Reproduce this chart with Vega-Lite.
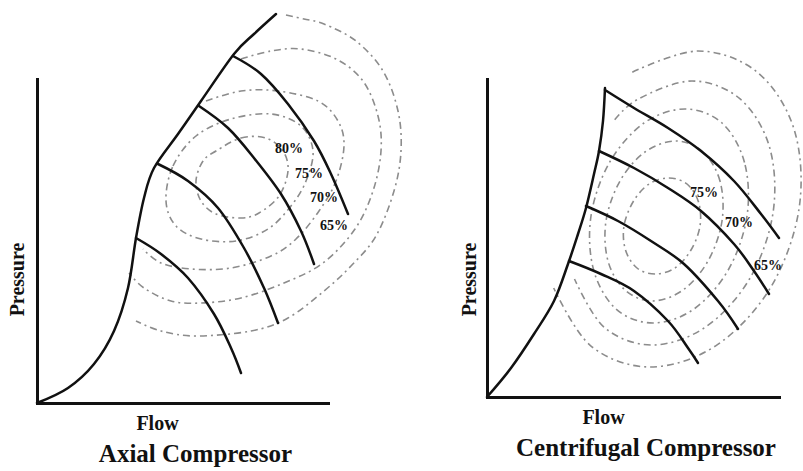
{
  "$schema": "https://vega.github.io/schema/vega-lite/v6.json",
  "background": "white",
  "padding": {"left": 7, "top": 9, "right": 2, "bottom": 2},
  "bounds": "flush",
  "spacing": 159,
  "config": {
    "view": {"stroke": null},
    "font": "Liberation Serif",
    "axis": {
      "domain": true, "domainColor": "#111", "domainWidth": 3, "domainCap": "square",
      "ticks": false, "labels": false, "grid": false,
      "titleFont": "Liberation Serif", "titleFontSize": 20, "titleFontWeight": "bold", "titleColor": "#111"
    },
    "title": {"font": "Liberation Serif", "fontSize": 25, "fontWeight": "bold", "color": "#111"}
  },
  "datasets": {
    "axial_lines": [
      {"id": "surge", "i": 0, "flow": 0, "pressure": 0},
      {"id": "surge", "i": 1, "flow": 31, "pressure": 15},
      {"id": "surge", "i": 2, "flow": 57, "pressure": 39},
      {"id": "surge", "i": 3, "flow": 77, "pressure": 72},
      {"id": "surge", "i": 4, "flow": 91, "pressure": 115},
      {"id": "surge", "i": 5, "flow": 99, "pressure": 165},
      {"id": "surge", "i": 6, "flow": 107, "pressure": 205},
      {"id": "surge", "i": 7, "flow": 117, "pressure": 235},
      {"id": "surge", "i": 8, "flow": 141, "pressure": 269},
      {"id": "surge", "i": 9, "flow": 164, "pressure": 302},
      {"id": "surge", "i": 10, "flow": 197, "pressure": 349},
      {"id": "surge", "i": 11, "flow": 217, "pressure": 369},
      {"id": "surge", "i": 12, "flow": 239, "pressure": 389},
      {"id": "s1", "i": 0, "flow": 99, "pressure": 165},
      {"id": "s1", "i": 1, "flow": 124, "pressure": 149},
      {"id": "s1", "i": 2, "flow": 151, "pressure": 125},
      {"id": "s1", "i": 3, "flow": 177, "pressure": 89},
      {"id": "s1", "i": 4, "flow": 194, "pressure": 55},
      {"id": "s1", "i": 5, "flow": 204, "pressure": 30},
      {"id": "s2", "i": 0, "flow": 121, "pressure": 239},
      {"id": "s2", "i": 1, "flow": 151, "pressure": 222},
      {"id": "s2", "i": 2, "flow": 181, "pressure": 195},
      {"id": "s2", "i": 3, "flow": 207, "pressure": 155},
      {"id": "s2", "i": 4, "flow": 227, "pressure": 115},
      {"id": "s2", "i": 5, "flow": 241, "pressure": 80},
      {"id": "s3", "i": 0, "flow": 162, "pressure": 297},
      {"id": "s3", "i": 1, "flow": 191, "pressure": 275},
      {"id": "s3", "i": 2, "flow": 217, "pressure": 245},
      {"id": "s3", "i": 3, "flow": 244, "pressure": 209},
      {"id": "s3", "i": 4, "flow": 264, "pressure": 172},
      {"id": "s3", "i": 5, "flow": 277, "pressure": 139},
      {"id": "s4", "i": 0, "flow": 196, "pressure": 347},
      {"id": "s4", "i": 1, "flow": 224, "pressure": 329},
      {"id": "s4", "i": 2, "flow": 251, "pressure": 299},
      {"id": "s4", "i": 3, "flow": 277, "pressure": 262},
      {"id": "s4", "i": 4, "flow": 294, "pressure": 229},
      {"id": "s4", "i": 5, "flow": 311, "pressure": 189}
    ],
    "axial_rings_closed": [
      {"id": "r1", "i": 0, "flow": 179, "pressure": 252},
      {"id": "r1", "i": 1, "flow": 204, "pressure": 265},
      {"id": "r1", "i": 2, "flow": 229, "pressure": 265},
      {"id": "r1", "i": 3, "flow": 246, "pressure": 252},
      {"id": "r1", "i": 4, "flow": 251, "pressure": 232},
      {"id": "r1", "i": 5, "flow": 242, "pressure": 207},
      {"id": "r1", "i": 6, "flow": 222, "pressure": 190},
      {"id": "r1", "i": 7, "flow": 204, "pressure": 185},
      {"id": "r1", "i": 8, "flow": 179, "pressure": 189},
      {"id": "r1", "i": 9, "flow": 164, "pressure": 202},
      {"id": "r1", "i": 10, "flow": 159, "pressure": 222},
      {"id": "r1", "i": 11, "flow": 166, "pressure": 242},
      {"id": "r2", "i": 0, "flow": 129, "pressure": 202},
      {"id": "r2", "i": 1, "flow": 136, "pressure": 237},
      {"id": "r2", "i": 2, "flow": 159, "pressure": 267},
      {"id": "r2", "i": 3, "flow": 194, "pressure": 284},
      {"id": "r2", "i": 4, "flow": 234, "pressure": 289},
      {"id": "r2", "i": 5, "flow": 264, "pressure": 277},
      {"id": "r2", "i": 6, "flow": 276, "pressure": 252},
      {"id": "r2", "i": 7, "flow": 269, "pressure": 222},
      {"id": "r2", "i": 8, "flow": 254, "pressure": 197},
      {"id": "r2", "i": 9, "flow": 231, "pressure": 174},
      {"id": "r2", "i": 10, "flow": 199, "pressure": 162},
      {"id": "r2", "i": 11, "flow": 164, "pressure": 164},
      {"id": "r2", "i": 12, "flow": 139, "pressure": 177}
    ],
    "axial_rings_open": [
      {"id": "r3", "i": 0, "flow": 169, "pressure": 302},
      {"id": "r3", "i": 1, "flow": 204, "pressure": 312},
      {"id": "r3", "i": 2, "flow": 241, "pressure": 312},
      {"id": "r3", "i": 3, "flow": 281, "pressure": 302},
      {"id": "r3", "i": 4, "flow": 301, "pressure": 282},
      {"id": "r3", "i": 5, "flow": 307, "pressure": 257},
      {"id": "r3", "i": 6, "flow": 299, "pressure": 222},
      {"id": "r3", "i": 7, "flow": 282, "pressure": 192},
      {"id": "r3", "i": 8, "flow": 259, "pressure": 164},
      {"id": "r3", "i": 9, "flow": 234, "pressure": 147},
      {"id": "r3", "i": 10, "flow": 194, "pressure": 135},
      {"id": "r3", "i": 11, "flow": 154, "pressure": 134},
      {"id": "r3", "i": 12, "flow": 124, "pressure": 140},
      {"id": "r3", "i": 13, "flow": 106, "pressure": 154},
      {"id": "r4", "i": 0, "flow": 204, "pressure": 344},
      {"id": "r4", "i": 1, "flow": 234, "pressure": 352},
      {"id": "r4", "i": 2, "flow": 264, "pressure": 354},
      {"id": "r4", "i": 3, "flow": 299, "pressure": 344},
      {"id": "r4", "i": 4, "flow": 326, "pressure": 322},
      {"id": "r4", "i": 5, "flow": 341, "pressure": 287},
      {"id": "r4", "i": 6, "flow": 344, "pressure": 252},
      {"id": "r4", "i": 7, "flow": 336, "pressure": 212},
      {"id": "r4", "i": 8, "flow": 318, "pressure": 174},
      {"id": "r4", "i": 9, "flow": 286, "pressure": 140},
      {"id": "r4", "i": 10, "flow": 247, "pressure": 120},
      {"id": "r4", "i": 11, "flow": 204, "pressure": 105},
      {"id": "r4", "i": 12, "flow": 164, "pressure": 100},
      {"id": "r4", "i": 13, "flow": 134, "pressure": 102},
      {"id": "r4", "i": 14, "flow": 107, "pressure": 115},
      {"id": "r4", "i": 15, "flow": 92, "pressure": 130},
      {"id": "r5", "i": 0, "flow": 249, "pressure": 388},
      {"id": "r5", "i": 1, "flow": 267, "pressure": 384},
      {"id": "r5", "i": 2, "flow": 287, "pressure": 379},
      {"id": "r5", "i": 3, "flow": 319, "pressure": 362},
      {"id": "r5", "i": 4, "flow": 346, "pressure": 332},
      {"id": "r5", "i": 5, "flow": 361, "pressure": 292},
      {"id": "r5", "i": 6, "flow": 364, "pressure": 252},
      {"id": "r5", "i": 7, "flow": 357, "pressure": 212},
      {"id": "r5", "i": 8, "flow": 339, "pressure": 167},
      {"id": "r5", "i": 9, "flow": 314, "pressure": 137},
      {"id": "r5", "i": 10, "flow": 287, "pressure": 112},
      {"id": "r5", "i": 11, "flow": 251, "pressure": 85},
      {"id": "r5", "i": 12, "flow": 214, "pressure": 72},
      {"id": "r5", "i": 13, "flow": 159, "pressure": 67},
      {"id": "r5", "i": 14, "flow": 124, "pressure": 72},
      {"id": "r5", "i": 15, "flow": 99, "pressure": 82}
    ],
    "axial_labels": [
      {"label": "80%", "flow": 252, "pressure": 254},
      {"label": "75%", "flow": 272, "pressure": 229},
      {"label": "70%", "flow": 287, "pressure": 205},
      {"label": "65%", "flow": 297, "pressure": 177}
    ],
    "centri_lines": [
      {"id": "surge", "i": 0, "flow": 0, "pressure": 0},
      {"id": "surge", "i": 1, "flow": 24, "pressure": 29},
      {"id": "surge", "i": 2, "flow": 47, "pressure": 63},
      {"id": "surge", "i": 3, "flow": 67, "pressure": 96},
      {"id": "surge", "i": 4, "flow": 81, "pressure": 133},
      {"id": "surge", "i": 5, "flow": 91, "pressure": 163},
      {"id": "surge", "i": 6, "flow": 99, "pressure": 189},
      {"id": "surge", "i": 7, "flow": 107, "pressure": 223},
      {"id": "surge", "i": 8, "flow": 112, "pressure": 246},
      {"id": "surge", "i": 9, "flow": 116, "pressure": 276},
      {"id": "surge", "i": 10, "flow": 118, "pressure": 309},
      {"id": "s1", "i": 0, "flow": 118, "pressure": 307},
      {"id": "s1", "i": 1, "flow": 147, "pressure": 289},
      {"id": "s1", "i": 2, "flow": 181, "pressure": 269},
      {"id": "s1", "i": 3, "flow": 214, "pressure": 246},
      {"id": "s1", "i": 4, "flow": 247, "pressure": 216},
      {"id": "s1", "i": 5, "flow": 274, "pressure": 183},
      {"id": "s1", "i": 6, "flow": 292, "pressure": 159},
      {"id": "s2", "i": 0, "flow": 112, "pressure": 246},
      {"id": "s2", "i": 1, "flow": 147, "pressure": 229},
      {"id": "s2", "i": 2, "flow": 181, "pressure": 209},
      {"id": "s2", "i": 3, "flow": 214, "pressure": 186},
      {"id": "s2", "i": 4, "flow": 247, "pressure": 153},
      {"id": "s2", "i": 5, "flow": 267, "pressure": 126},
      {"id": "s2", "i": 6, "flow": 282, "pressure": 103},
      {"id": "s3", "i": 0, "flow": 99, "pressure": 191},
      {"id": "s3", "i": 1, "flow": 131, "pressure": 176},
      {"id": "s3", "i": 2, "flow": 164, "pressure": 156},
      {"id": "s3", "i": 3, "flow": 197, "pressure": 133},
      {"id": "s3", "i": 4, "flow": 231, "pressure": 96},
      {"id": "s3", "i": 5, "flow": 251, "pressure": 68},
      {"id": "s4", "i": 0, "flow": 82, "pressure": 136},
      {"id": "s4", "i": 1, "flow": 114, "pressure": 123},
      {"id": "s4", "i": 2, "flow": 147, "pressure": 106},
      {"id": "s4", "i": 3, "flow": 181, "pressure": 76},
      {"id": "s4", "i": 4, "flow": 201, "pressure": 49},
      {"id": "s4", "i": 5, "flow": 211, "pressure": 34}
    ],
    "centri_rings_closed": [
      {"id": "r1", "i": 0, "flow": 213, "pressure": 171},
      {"id": "r1", "i": 1, "flow": 211.5, "pressure": 195},
      {"id": "r1", "i": 2, "flow": 200, "pressure": 213},
      {"id": "r1", "i": 3, "flow": 182, "pressure": 219},
      {"id": "r1", "i": 4, "flow": 162, "pressure": 213},
      {"id": "r1", "i": 5, "flow": 146, "pressure": 195},
      {"id": "r1", "i": 6, "flow": 137, "pressure": 171},
      {"id": "r1", "i": 7, "flow": 138.5, "pressure": 147},
      {"id": "r1", "i": 8, "flow": 150, "pressure": 129},
      {"id": "r1", "i": 9, "flow": 168, "pressure": 123},
      {"id": "r1", "i": 10, "flow": 188, "pressure": 129},
      {"id": "r1", "i": 11, "flow": 204, "pressure": 147},
      {"id": "r2", "i": 0, "flow": 235, "pressure": 176},
      {"id": "r2", "i": 1, "flow": 233, "pressure": 216},
      {"id": "r2", "i": 2, "flow": 216, "pressure": 245},
      {"id": "r2", "i": 3, "flow": 189, "pressure": 256},
      {"id": "r2", "i": 4, "flow": 158, "pressure": 245},
      {"id": "r2", "i": 5, "flow": 133, "pressure": 216},
      {"id": "r2", "i": 6, "flow": 119, "pressure": 176},
      {"id": "r2", "i": 7, "flow": 121, "pressure": 136},
      {"id": "r2", "i": 8, "flow": 138, "pressure": 107},
      {"id": "r2", "i": 9, "flow": 165, "pressure": 96},
      {"id": "r2", "i": 10, "flow": 196, "pressure": 107},
      {"id": "r2", "i": 11, "flow": 221, "pressure": 136},
      {"id": "r3", "i": 0, "flow": 260, "pressure": 181},
      {"id": "r3", "i": 1, "flow": 257.5, "pressure": 234.5},
      {"id": "r3", "i": 2, "flow": 235, "pressure": 274},
      {"id": "r3", "i": 3, "flow": 198, "pressure": 288},
      {"id": "r3", "i": 4, "flow": 157, "pressure": 274},
      {"id": "r3", "i": 5, "flow": 122.5, "pressure": 234.5},
      {"id": "r3", "i": 6, "flow": 104, "pressure": 181},
      {"id": "r3", "i": 7, "flow": 106.5, "pressure": 127.5},
      {"id": "r3", "i": 8, "flow": 129, "pressure": 88},
      {"id": "r3", "i": 9, "flow": 166, "pressure": 74},
      {"id": "r3", "i": 10, "flow": 207, "pressure": 88},
      {"id": "r3", "i": 11, "flow": 241.5, "pressure": 127.5}
    ],
    "centri_rings_open": [
      {"id": "r4", "i": 0, "flow": 127.7, "pressure": 277.3},
      {"id": "r4", "i": 1, "flow": 151.8, "pressure": 298.3},
      {"id": "r4", "i": 2, "flow": 205, "pressure": 316},
      {"id": "r4", "i": 3, "flow": 252.8, "pressure": 298.3},
      {"id": "r4", "i": 4, "flow": 282.5, "pressure": 250},
      {"id": "r4", "i": 5, "flow": 286, "pressure": 184},
      {"id": "r4", "i": 6, "flow": 262.5, "pressure": 118},
      {"id": "r4", "i": 7, "flow": 218.2, "pressure": 69.7},
      {"id": "r4", "i": 8, "flow": 165, "pressure": 52},
      {"id": "r4", "i": 9, "flow": 117.2, "pressure": 69.7},
      {"id": "r4", "i": 10, "flow": 87.5, "pressure": 118},
      {"id": "r5", "i": 0, "flow": 145.3, "pressure": 324.8},
      {"id": "r5", "i": 1, "flow": 211, "pressure": 346},
      {"id": "r5", "i": 2, "flow": 270.3, "pressure": 324.8},
      {"id": "r5", "i": 3, "flow": 307.3, "pressure": 267},
      {"id": "r5", "i": 4, "flow": 312, "pressure": 188},
      {"id": "r5", "i": 5, "flow": 283.3, "pressure": 109},
      {"id": "r5", "i": 6, "flow": 228.7, "pressure": 51.2},
      {"id": "r5", "i": 7, "flow": 163, "pressure": 30},
      {"id": "r5", "i": 8, "flow": 103.7, "pressure": 51.2},
      {"id": "r5", "i": 9, "flow": 66.7, "pressure": 109}
    ],
    "centri_labels": [
      {"label": "75%", "flow": 217, "pressure": 204},
      {"label": "70%", "flow": 252, "pressure": 174},
      {"label": "65%", "flow": 281, "pressure": 131}
    ]
  },
  "hconcat": [
    {
      "width": 291,
      "height": 324,
      "title": {"text": "Axial Compressor", "orient": "bottom", "anchor": "middle", "dx": 13, "offset": 9},
      "encoding": {
        "x": {"field": "flow", "type": "quantitative", "scale": {"domain": [0, 291], "nice": false, "zero": false},
          "axis": {"title": "Flow", "titleX": 120, "titleY": 26, "titleAlign": "center", "titleBaseline": "alphabetic"}},
        "y": {"field": "pressure", "type": "quantitative", "scale": {"domain": [0, 324], "nice": false, "zero": false},
          "axis": {"title": "Pressure", "titleX": -20, "titleY": 200, "titleAngle": -90, "titleAlign": "center", "titleBaseline": "middle"}}
      },
      "layer": [
        {
          "data": {"name": "axial_rings_closed"},
          "mark": {"type": "line", "interpolate": "cardinal-closed", "color": "#8c8c8c", "strokeWidth": 1.6, "strokeDash": [7, 4, 2, 4]},
          "encoding": {"detail": {"field": "id"}, "order": {"field": "i"}}
        },
        {
          "data": {"name": "axial_rings_open"},
          "mark": {"type": "line", "interpolate": "cardinal", "color": "#8c8c8c", "strokeWidth": 1.6, "strokeDash": [7, 4, 2, 4]},
          "encoding": {"detail": {"field": "id"}, "order": {"field": "i"}}
        },
        {
          "data": {"name": "axial_lines"},
          "mark": {"type": "line", "interpolate": "cardinal", "color": "#111", "strokeWidth": 2.5, "strokeCap": "round"},
          "encoding": {"detail": {"field": "id"}, "order": {"field": "i"}}
        },
        {
          "data": {"name": "axial_labels"},
          "mark": {"type": "text", "font": "Liberation Serif", "fontWeight": "bold", "fontSize": 14, "color": "#111", "align": "center", "baseline": "middle"},
          "encoding": {"text": {"field": "label"}}
        }
      ]
    },
    {
      "width": 292,
      "height": 318,
      "title": {"text": "Centrifugal Compressor", "orient": "bottom", "anchor": "middle", "dx": 13, "offset": 9},
      "encoding": {
        "x": {"field": "flow", "type": "quantitative", "scale": {"domain": [0, 292], "nice": false, "zero": false},
          "axis": {"title": "Flow", "titleX": 116, "titleY": 26, "titleAlign": "center", "titleBaseline": "alphabetic"}},
        "y": {"field": "pressure", "type": "quantitative", "scale": {"domain": [0, 318], "nice": false, "zero": false},
          "axis": {"title": "Pressure", "titleX": -18, "titleY": 200, "titleAngle": -90, "titleAlign": "center", "titleBaseline": "middle"}}
      },
      "layer": [
        {
          "data": {"name": "centri_rings_closed"},
          "mark": {"type": "line", "interpolate": "cardinal-closed", "color": "#8c8c8c", "strokeWidth": 1.6, "strokeDash": [7, 4, 2, 4]},
          "encoding": {"detail": {"field": "id"}, "order": {"field": "i"}}
        },
        {
          "data": {"name": "centri_rings_open"},
          "mark": {"type": "line", "interpolate": "cardinal", "color": "#8c8c8c", "strokeWidth": 1.6, "strokeDash": [7, 4, 2, 4]},
          "encoding": {"detail": {"field": "id"}, "order": {"field": "i"}}
        },
        {
          "data": {"name": "centri_lines"},
          "mark": {"type": "line", "interpolate": "cardinal", "color": "#111", "strokeWidth": 2.5, "strokeCap": "round"},
          "encoding": {"detail": {"field": "id"}, "order": {"field": "i"}}
        },
        {
          "data": {"name": "centri_labels"},
          "mark": {"type": "text", "font": "Liberation Serif", "fontWeight": "bold", "fontSize": 14, "color": "#111", "align": "center", "baseline": "middle"},
          "encoding": {"text": {"field": "label"}}
        }
      ]
    }
  ]
}
